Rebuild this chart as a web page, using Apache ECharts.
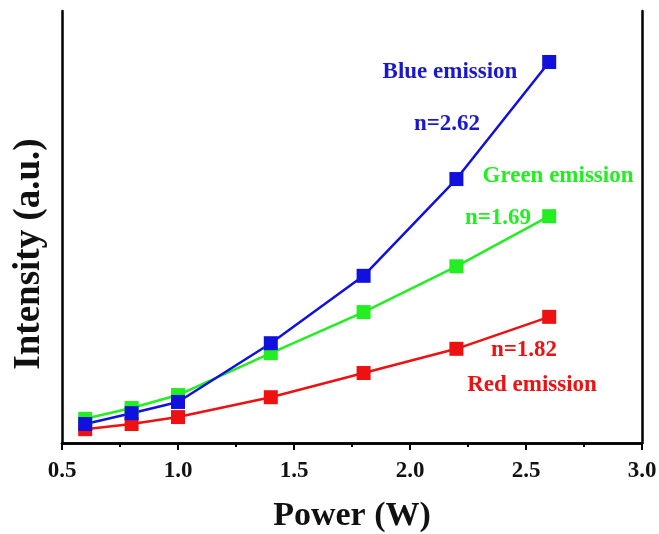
<!DOCTYPE html>
<html>
<head>
<meta charset="utf-8">
<script src="https://cdn.jsdelivr.net/npm/echarts@6/dist/echarts.min.js"></script>
<style>
  html, body { margin: 0; padding: 0; background: #fff; }
  #chart { width: 659px; height: 534px; }
</style>
</head>
<body>
<div id="chart"></div>
<script>
// power (W)
const power = [0.6, 0.8, 1.0, 1.4, 1.8, 2.2, 2.6];
// intensities (a.u.)
const blue = [4.4, 6.9, 9.5, 23.1, 38.7, 61.1, 88.2];
const green = [5.6, 8.1, 11.1, 20.8, 30.3, 40.9, 52.5];
const red = [3.2, 4.4, 6.0, 10.6, 16.2, 21.8, 29.2];

const font = "Liberation Serif";
const chart = echarts.init(document.getElementById("chart"));

function line(name, values, color) {
  return {
    name: name,
    type: "line",
    data: power.map((p, i) => [p, values[i]]),
    symbol: "rect",
    symbolSize: 14,
    lineStyle: { color: color, width: 2.5 },
    itemStyle: { color: color },
    animation: false,
  };
}

function note(text, x, y, color, size) {
  return {
    type: "text",
    x: x,
    y: y,
    style: {
      text: text,
      fill: color,
      fontFamily: font,
      fontWeight: "bold",
      fontSize: size || 23,
      align: "center",
      verticalAlign: "middle",
    },
  };
}

// y title drawn by hand, it sits a bit below the plot centre in the original
const yTitle = note("Intensity (a.u.)", 29, 254, "#111", 37);
yTitle.rotation = Math.PI / 2;

const option = {
  backgroundColor: "#fff",
  grid: { left: 62, right: 17, top: 11, bottom: 91, outerBoundsMode: "none", containLabel: false },
  xAxis: [
    {
      type: "value",
      min: 0.5,
      max: 3.0,
      interval: 0.5,
      name: "Power (W)",
      nameLocation: "middle",
      nameGap: 56,
      nameMoveOverlap: false,
      nameTextStyle: { fontFamily: font, fontWeight: "bold", fontSize: 34, color: "#111" },
      axisLine: { lineStyle: { color: "#000", width: 2.5 } },
      axisTick: { length: 7, lineStyle: { color: "#000", width: 2 } },
      minorTick: { show: true, splitNumber: 2, length: 4, lineStyle: { color: "#000", width: 2 } },
      axisLabel: {
        margin: 17,
        fontFamily: font,
        fontWeight: "bold",
        fontSize: 23,
        color: "#111",
        formatter: (v) => v.toFixed(1),
      },
      splitLine: { show: false },
    },
    {
      type: "value",
      position: "top",
      min: 0.5,
      max: 3.0,
      axisLine: { show: true, lineStyle: { color: "#000", width: 2.5 } },
      axisTick: { show: false },
      axisLabel: { show: false },
      splitLine: { show: false },
    },
  ],
  yAxis: [
    {
      type: "value",
      min: 0,
      max: 100,
      axisLine: { show: true, lineStyle: { color: "#000", width: 2.5 } },
      axisTick: { show: false },
      axisLabel: { show: false },
      splitLine: { show: false },
    },
    {
      type: "value",
      position: "right",
      min: 0,
      max: 100,
      axisLine: { show: true, lineStyle: { color: "#000", width: 2.5 } },
      axisTick: { show: false },
      axisLabel: { show: false },
      splitLine: { show: false },
    },
  ],
  series: [
    line("Red emission", red, "#ee1111"),
    line("Green emission", green, "#22ee22"),
    line("Blue emission", blue, "#1111dd"),
  ],
  graphic: [
    yTitle,
    note("Blue emission", 450, 72, "#1a1acc"),
    note("n=2.62", 447, 124, "#1a1acc"),
    note("Green emission", 558, 176, "#22ee22"),
    note("n=1.69", 498, 218, "#22ee22"),
    note("n=1.82", 524, 350, "#ee1111"),
    note("Red emission", 532, 385, "#ee1111"),
  ],
};

chart.setOption(option);
</script>
</body>
</html>
